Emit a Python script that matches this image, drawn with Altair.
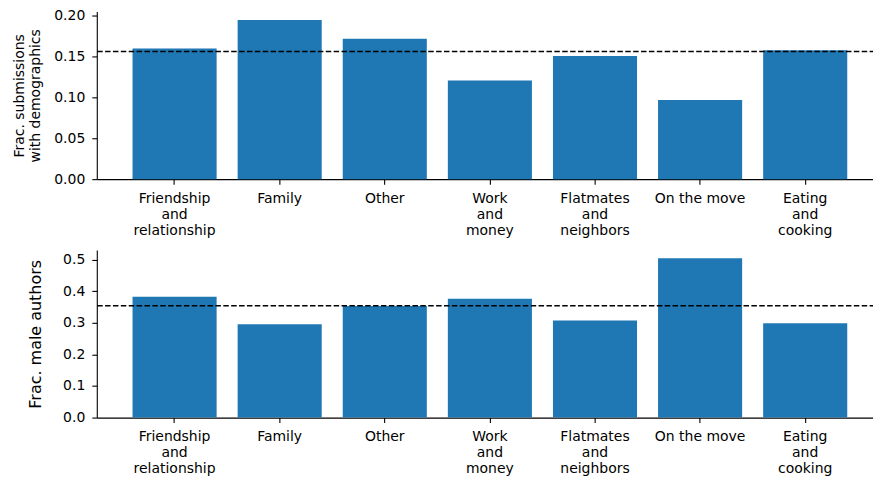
import altair as alt
import pandas as pd

categories = [
    "Friendship\nand\nrelationship",
    "Family",
    "Other",
    "Work\nand\nmoney",
    "Flatmates\nand\nneighbors",
    "On the move",
    "Eating\nand\ncooking",
]
frac_demographics = [0.160, 0.195, 0.172, 0.121, 0.151, 0.097, 0.158]
frac_male = [0.382, 0.295, 0.353, 0.376, 0.307, 0.504, 0.298]
mean_demographics = 0.1565
mean_male = 0.354
top_ticks = [0.0, 0.05, 0.10, 0.15, 0.20]
bottom_ticks = [0.0, 0.1, 0.2, 0.3, 0.4, 0.5]

FONT = "DejaVu Sans"
BAR = "#1f77b4"


def panel(values, mean, title, ymax, ticks, fmt, title_size, title_pad, height):
    df = pd.DataFrame({"cat": categories, "val": values})
    mdf = pd.DataFrame({"val": [mean]})
    x = alt.X(
        "cat:N",
        sort=None,
        title=None,
        scale=alt.Scale(paddingInner=0.2, paddingOuter=0.34),
        axis=alt.Axis(
            labelAngle=0,
            labelExpr="split(datum.label, '\\n')",
            labelLineHeight=16,
            labelPadding=7,
            labelFontSize=14,
            tickSize=5,
        ),
    )
    y = alt.Y(
        "val:Q",
        scale=alt.Scale(domain=[0, ymax], nice=False, zero=True),
        axis=alt.Axis(
            values=ticks,
            format=fmt,
            title=title,
            titleFontSize=title_size,
            titleFontWeight="normal",
            titlePadding=title_pad,
            titleLineHeight=16,
            labelFontSize=14,
            labelOverlap=False,
            tickSize=5,
            labelPadding=7,
        ),
    )
    bars = alt.Chart(df).mark_bar(color=BAR).encode(x=x, y=y)
    rule = (
        alt.Chart(mdf)
        .mark_rule(color="black", strokeDash=[5.5, 2.4], strokeWidth=1.5)
        .encode(y=y)
    )
    return alt.layer(bars, rule).properties(width=788, height=height)


top = panel(
    frac_demographics,
    mean_demographics,
    ["Frac. submissions", "with demographics"],
    0.2054,
    top_ticks,
    ".2f",
    14,
    11.5,
    168,
)
bottom = panel(
    frac_male,
    mean_male,
    "Frac. male authors",
    0.53,
    bottom_ticks,
    ".1f",
    16,
    19.5,
    168,
)

chart = (
    alt.vconcat(top, bottom, spacing=71, bounds="flush")
    .properties(padding={"left": 4, "top": 0, "right": -11, "bottom": 0})
    .configure_view(stroke=None)
    .configure_axis(
        grid=False,
        domainColor="black",
        domainWidth=1.1,
        tickColor="black",
        tickWidth=1.1,
        labelColor="black",
        titleColor="black",
        labelFont=FONT,
        titleFont=FONT,
    )
)

chart.save("out.html", embed_options={"renderer": "svg", "actions": False})
